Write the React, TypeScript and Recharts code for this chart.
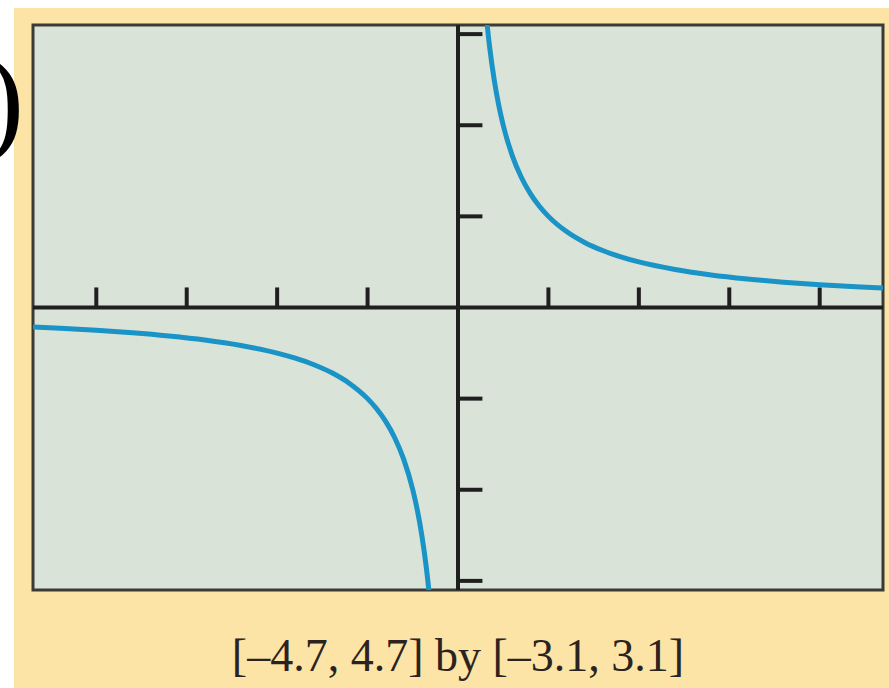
import { LineChart, Line, XAxis, YAxis, ReferenceLine, ReferenceArea } from "recharts";

// viewing window [-4.7, 4.7] by [-3.1, 3.1]
const xDomain: [number, number] = [-4.7, 4.7];
const yDomain: [number, number] = [-3.1, 3.1];
const xTicks = [-4, -3, -2, -1, 1, 2, 3, 4];
const yTicks = [-3, -2, -1, 1, 2, 3];

// y = 1/x, right branch
const rightX = [0.3, 0.32, 0.35, 0.4, 0.45, 0.5, 0.6, 0.7, 0.8, 0.9, 1.0, 1.2, 1.4, 1.6, 1.8, 2.0, 2.4, 2.8, 3.2, 3.6, 4.0, 4.4, 4.7];
const rightY = [3.333, 3.125, 2.857, 2.5, 2.222, 2.0, 1.667, 1.429, 1.25, 1.111, 1.0, 0.833, 0.714, 0.625, 0.556, 0.5, 0.417, 0.357, 0.313, 0.278, 0.25, 0.227, 0.213];
// left branch
const leftX = [-4.7, -4.4, -4.0, -3.6, -3.2, -2.8, -2.4, -2.0, -1.8, -1.6, -1.4, -1.2, -1.0, -0.9, -0.8, -0.7, -0.6, -0.5, -0.45, -0.4, -0.35, -0.32, -0.3];
const leftY = [-0.213, -0.227, -0.25, -0.278, -0.313, -0.357, -0.417, -0.5, -0.556, -0.625, -0.714, -0.833, -1.0, -1.111, -1.25, -1.429, -1.667, -2.0, -2.222, -2.5, -2.857, -3.125, -3.333];

const rightData = rightX.map((x, i) => ({ x, y: rightY[i] }));
const leftData = leftX.map((x, i) => ({ x, y: leftY[i] }));

const AXIS = "#1f1f1f";
const CURVE = "#1a93c6";
// tick lengths in data units
const xTickLen = 0.22;
const yTickLen = 0.27;

export default function App() {
  return (
    <div
      style={{
        position: "fixed",
        left: 0,
        top: 0,
        width: 889,
        height: 688,
        overflow: "hidden",
        background: "#fff",
      }}
    >
      <div style={{ position: "absolute", left: 14, top: 8, width: 875, height: 680, background: "#fce3a6" }}>
        <LineChart width={875} height={600} margin={{ top: 17, right: 6, bottom: 18, left: 19 }}>
          <XAxis type="number" dataKey="x" domain={xDomain} allowDataOverflow hide />
          <YAxis type="number" dataKey="y" domain={yDomain} allowDataOverflow hide />
          <ReferenceArea
            x1={xDomain[0]}
            x2={xDomain[1]}
            y1={yDomain[0]}
            y2={yDomain[1]}
            fill="#d9e3d8"
            fillOpacity={1}
            stroke="#3b3b36"
            strokeWidth={3}
          />
          <ReferenceLine x={0} stroke={AXIS} strokeWidth={4} />
          <ReferenceLine y={0} stroke={AXIS} strokeWidth={4} />
          {xTicks.map((t) => (
            <ReferenceLine
              key={`xt${t}`}
              segment={[
                { x: t, y: 0 },
                { x: t, y: xTickLen },
              ]}
              stroke={AXIS}
              strokeWidth={4}
            />
          ))}
          {yTicks.map((t) => (
            <ReferenceLine
              key={`yt${t}`}
              segment={[
                { x: 0, y: t },
                { x: yTickLen, y: t },
              ]}
              stroke={AXIS}
              strokeWidth={4}
            />
          ))}
          <Line
            data={leftData}
            dataKey="y"
            type="monotone"
            stroke={CURVE}
            strokeWidth={5}
            dot={false}
            isAnimationActive={false}
          />
          <Line
            data={rightData}
            dataKey="y"
            type="monotone"
            stroke={CURVE}
            strokeWidth={5}
            dot={false}
            isAnimationActive={false}
          />
        </LineChart>
        <div
          style={{
            position: "absolute",
            left: -14,
            width: 916,
            top: 625,
            textAlign: "center",
            fontFamily: "'Liberation Serif', serif",
            fontSize: 46,
            lineHeight: "46px",
            color: "#2a2320",
          }}
        >
          [–4.7, 4.7] by [–3.1, 3.1]
        </div>
      </div>
      <div
        style={{
          position: "absolute",
          left: -46,
          top: 30,
          width: 70,
          textAlign: "right",
          fontFamily: "'Liberation Serif', serif",
          fontSize: 118,
          lineHeight: "140px",
          color: "#000",
        }}
      >
        )
      </div>
    </div>
  );
}
